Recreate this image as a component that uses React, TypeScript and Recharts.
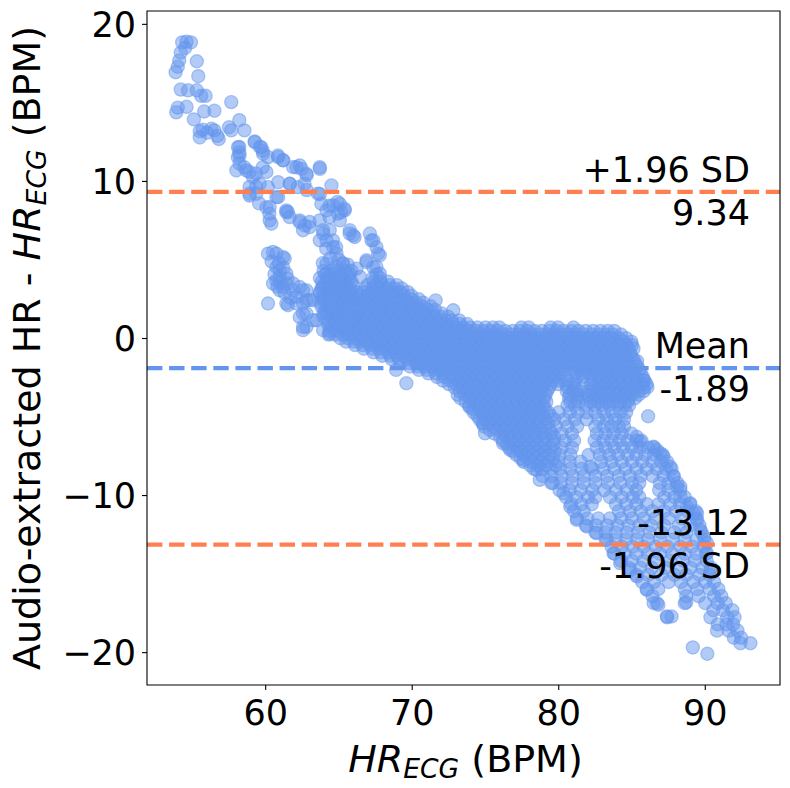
import { ReferenceArea, ReferenceLine, Scatter, ScatterChart, XAxis, YAxis } from "recharts";

const X_DOMAIN: [number, number] = [51.9, 95.1];
const Y_DOMAIN: [number, number] = [-22.06, 20.85];
const X_TICKS = [60, 70, 80, 90];
const Y_TICKS = [-20, -10, 0, 10, 20];

const MEAN_DIFF = -1.89;
const UPPER_LOA = 9.34;
const LOWER_LOA = -13.12;

const POINT_COLOR = "#6495ED";
const LOA_COLOR = "#FF7F50";

// Sparse points, [HR_ECG, difference]
const upperTail: [number, number][] = [
  [54.3, 18.85], [54.6, 18.9], [54.9, 18.85], [54.5, 18.5], [54.2, 18.2], [54.1, 17.7], [54.0, 17.3],
  [53.85, 16.95], [55.3, 17.65], [55.4, 16.7], [54.2, 15.85], [54.7, 15.8], [55.3, 15.8], [55.6, 15.45],
  [55.9, 15.45], [53.9, 14.4], [54.0, 14.7], [54.6, 14.75], [55.8, 14.45], [56.5, 14.5], [57.65, 15.05],
  [55.1, 13.95], [55.5, 12.8], [55.7, 13.3], [56.3, 13.35], [56.5, 13.25], [56.8, 12.7], [56.7, 12.9],
  [57.5, 13.45], [57.65, 13.25], [58.2, 13.9], [58.55, 13.25], [59.25, 12.55], [59.6, 12.2], [59.8, 11.95],
  [58.2, 12.2], [58.2, 11.85], [58.1, 11.55], [55.5, 13.2], [56.0, 13.1],
];

const upperBand: [number, number][] = [
  [58.11, 12.18], [58.22, 11.65], [59.25, 12.5], [59.7, 12.18], [59.82, 11.76], [60.16, 11.55],
  [60.84, 11.65], [61.18, 11.34], [61.87, 10.91], [62.32, 11.02], [62.78, 10.49], [63.69, 10.91],
  [64.49, 9.75], [58.22, 11.13], [58.68, 10.7], [59.13, 10.27], [59.59, 9.85], [60.16, 9.64], [60.73, 9.0],
  [58.91, 9.22], [59.36, 9.22], [60.27, 8.37], [60.27, 7.52], [60.39, 7.31], [61.41, 8.16], [61.64, 7.73],
  [62.32, 7.41], [62.55, 6.89], [63.0, 7.09], [63.8, 8.58], [64.15, 8.16], [64.6, 8.47], [65.06, 8.58],
  [65.4, 8.16], [64.94, 7.95], [65.06, 7.52], [65.74, 6.89], [65.97, 6.57], [63.69, 7.52], [63.92, 6.68],
  [64.15, 6.25], [64.37, 6.89], [64.6, 5.82], [64.83, 5.4], [65.29, 4.77], [65.74, 4.13], [66.43, 3.92],
  [67.11, 6.68], [67.34, 6.25], [67.56, 5.82], [67.67, 5.4], [66.88, 4.98], [67.34, 4.55],
  [58.0, 10.7], [58.55, 10.9], [58.9, 10.6], [59.35, 10.5], [59.8, 10.9], [60.05, 10.6], [60.85, 11.55],
  [61.2, 11.35], [62.1, 10.9], [62.45, 10.8], [62.8, 10.4], [63.7, 10.8], [60.85, 9.95], [61.65, 9.85],
  [62.65, 9.85], [58.9, 9.65], [59.35, 9.65], [58.9, 9.1], [59.55, 8.6], [60.05, 8.35], [60.25, 7.95],
  [60.85, 9.0], [61.4, 8.05], [62.8, 9.45], [63.7, 9.2], [64.35, 8.45], [64.9, 8.7], [65.15, 8.05],
  [61.52, 8.05], [62.32, 7.52], [62.67, 7.2], [63.0, 7.42], [62.19, 9.64], [61.64, 9.85], [63.57, 9.22],
  [65.38, 8.26], [64.36, 7.73], [65.73, 6.68], [66.07, 6.46], [63.91, 6.89], [64.59, 6.25], [63.69, 6.25],
  [64.13, 5.72], [64.81, 5.82], [67.22, 6.25], [67.79, 5.3], [66.88, 4.87], [67.56, 4.55], [67.79, 4.13],
  [64.4, 5.1], [65.0, 5.0], [65.6, 4.7], [66.2, 4.45], [63.9, 4.8],
];

const leftLobe: [number, number][] = [
  [60.16, 5.4], [60.5, 5.51], [61.18, 5.19], [60.73, 4.55], [60.96, 3.92], [61.41, 4.13], [60.5, 3.5],
  [61.18, 3.28], [61.87, 3.07], [62.32, 3.28], [62.78, 3.07], [60.16, 2.23], [61.41, 2.23], [62.09, 2.65],
  [62.78, 2.44], [63.24, 2.44], [63.69, 2.86], [61.52, 2.12], [62.32, 1.37], [62.78, 0.74], [62.55, 0.53],
  [60.73, 5.4], [61.3, 5.09], [60.96, 4.34], [60.73, 3.71], [61.41, 3.5], [60.96, 3.07], [62.55, 2.23],
  [60.4, 4.9], [60.9, 4.8], [61.2, 4.5], [60.6, 4.1], [61.0, 3.6], [61.5, 3.8], [60.8, 3.3], [61.3, 2.9],
  [61.7, 2.6], [64.15, 4.77], [64.8, 4.55], [65.26, 4.77], [64.15, 4.13], [65.04, 3.92], [64.59, 3.5],
  [65.5, 3.5], [63.91, 3.28], [64.81, 2.86], [65.73, 3.07], [63.91, 2.44], [65.04, 2.23], [65.95, 2.44],
  [62.55, 1.59], [63.46, 1.16], [64.15, 1.59], [64.83, 1.37], [64.37, 0.32], [65.51, 0.74], [66.2, 1.37],
  [63.0, 2.44], [62.1, 2.23], [62.78, 1.59], [62.55, 0.74], [63.24, 1.16], [63.92, 0.53], [61.87, 3.5],
  [62.55, 3.07],
];

const strays: [number, number][] = [
  [71.6, 2.43], [72.8, 1.8], [68.9, -2.0], [69.6, -2.85], [85.35, -1.45], [85.8, -2.65], [86.05, -3.1],
  [86.1, -4.95], [89.15, -19.67], [90.14, -20.07], [86.8, -16.95], [87.7, -17.7], [88.7, -16.8],
  [80.32, -9.85], [80.78, -10.7], [81.23, -11.55], [81.92, -11.97], [82.6, -12.39], [83.28, -12.82],
  [83.74, -13.67], [84.19, -14.3], [84.88, -14.73], [85.33, -15.15], [86.02, -16.0], [86.47, -16.84],
  [87.38, -17.69], [85.33, -6.26], [86.47, -6.89], [86.93, -7.31], [87.61, -8.16], [88.3, -9.43],
  [88.98, -10.49], [89.44, -11.55], [89.9, -12.61], [90.12, -13.67], [90.35, -14.73], [85.56, -6.57],
  [86.7, -7.1], [87.15, -7.53], [87.84, -8.8], [88.07, -9.43], [88.3, -10.07], [89.44, -11.13],
  [88.75, -10.71], [89.21, -11.13], [89.67, -12.19], [90.12, -13.03], [73.9, -4.35], [74.85, -5.4],
  [74.97, -6.04], [76.2, -6.68], [76.7, -7.1], [77.6, -7.74], [78.5, -8.37], [78.7, -9.0], [79.6, -9.2],
  [82.03, -7.42], [82.15, -8.16],
];

// Dense part of the cloud, row by row: [difference, HR_ECG values]
const coreRows: [number, number[]][] = [
  [4.3, [63.95, 64.45, 64.95, 65.4, 65.85]],
  [3.85, [63.7, 64.2, 64.75, 65.2, 65.7, 67.3, 67.8]],
  [3.4, [63.95, 64.5, 64.95, 65.45, 65.95, 66.95, 67.5, 67.95, 68.45, 68.95]],
  [2.95, [63.7, 64.25, 64.7, 65.2, 65.75, 66.2, 66.7, 67.25, 67.7, 68.2, 68.75, 69.2, 69.7]],
  [2.5, [64.0, 64.5, 65.0, 65.45, 66.0, 66.5, 66.95, 67.5, 68.0, 68.45, 68.95, 69.5, 69.95, 70.45]],
  [2.05, [63.8, 64.25, 64.75, 65.25, 65.7, 66.25, 66.75, 67.2, 67.75, 68.25, 68.7, 69.25, 69.75, 70.2, 70.7, 71.25]],
  [1.6, [63.95, 64.5, 64.95, 65.5, 65.95, 66.45, 67.0, 67.5, 67.95, 68.5, 69.0, 69.45, 69.95, 70.5, 70.95, 71.45, 72.0]],
  [1.15, [64.2, 64.75, 65.2, 65.75, 66.25, 66.7, 67.25, 67.75, 68.2, 68.75, 69.25, 69.7, 70.25, 70.7, 71.2, 71.75, 72.25, 72.7, 73.2]],
  [0.7, [64.45, 64.95, 65.5, 66.0, 66.45, 66.95, 67.5, 68.0, 68.45, 69.0, 69.5, 69.95, 70.45, 71.0, 71.5, 71.95, 72.45, 73.0, 73.5, 73.95, 74.45, 75.0, 75.5, 75.95, 77.45, 77.95, 79.45, 79.95, 81.0]],
  [0.25, [64.3, 64.75, 65.25, 65.7, 66.2, 66.75, 67.25, 67.7, 68.25, 68.75, 69.2, 69.7, 70.25, 70.75, 71.2, 71.7, 72.25, 72.75, 73.2, 73.7, 74.25, 74.75, 75.2, 75.7, 76.25, 76.75, 77.2, 77.7, 78.25, 78.75, 79.2, 79.7, 80.25, 80.75, 81.2, 81.7, 82.25, 82.75, 83.2, 83.7, 84.25]],
  [-0.2, [65.5, 66.0, 66.45, 66.95, 67.5, 68.0, 68.45, 68.95, 69.5, 70.0, 70.45, 70.95, 71.5, 72.0, 72.45, 72.95, 73.5, 74.0, 74.45, 74.95, 75.5, 76.0, 76.45, 76.95, 77.5, 78.0, 78.45, 78.95, 79.5, 80.0, 80.45, 80.95, 81.5, 82.0, 82.45, 82.95, 83.5, 84.0, 84.45, 84.95]],
  [-0.65, [66.7, 67.25, 67.7, 68.2, 68.75, 69.25, 69.7, 70.2, 70.75, 71.25, 71.7, 72.2, 72.75, 73.25, 73.7, 74.2, 74.75, 75.25, 75.7, 76.2, 76.75, 77.25, 77.7, 78.2, 78.75, 79.25, 79.7, 80.2, 80.75, 81.25, 81.7, 82.2, 82.75, 83.25, 83.7, 84.2, 84.75, 85.1]],
  [-1.1, [67.95, 68.5, 68.95, 69.45, 70.0, 70.5, 70.95, 71.45, 72.0, 72.5, 72.95, 73.45, 74.0, 74.5, 74.95, 75.45, 76.0, 76.5, 76.95, 77.45, 78.0, 78.5, 78.95, 79.45, 80.0, 80.5, 80.95, 81.45, 82.0, 82.5, 82.95, 83.45, 84.0, 84.5, 84.95]],
  [-1.55, [69.2, 69.75, 70.25, 70.7, 71.2, 71.75, 72.25, 72.7, 73.2, 73.75, 74.25, 74.7, 75.2, 75.75, 76.25, 76.7, 77.2, 77.75, 78.25, 78.7, 79.2, 79.75, 80.25, 80.7, 81.2, 81.75, 82.25, 82.7, 83.2, 83.75, 84.25, 84.7, 85.2]],
  [-2.0, [70.45, 71.0, 71.5, 71.95, 72.45, 73.0, 73.5, 73.95, 74.45, 75.0, 75.5, 75.95, 76.45, 77.0, 77.5, 77.95, 78.45, 79.0, 79.5, 79.95, 80.45, 81.0, 81.5, 81.95, 82.45, 83.0, 83.5, 83.95, 84.45, 85.0, 85.5]],
  [-2.45, [71.7, 72.2, 72.75, 73.25, 73.7, 74.2, 74.75, 75.25, 75.7, 76.2, 76.75, 77.25, 77.7, 78.2, 78.75, 79.25, 79.7, 80.2, 81.25, 81.7, 82.2, 82.75, 83.25, 83.7, 84.2, 84.75, 85.25, 85.75]],
  [-2.9, [72.5, 73.0, 73.45, 73.95, 74.5, 75.0, 75.45, 75.95, 76.5, 77.0, 77.45, 77.95, 78.5, 79.0, 79.45, 79.95, 80.5, 81.0, 82.2, 82.7, 83.2, 83.7, 84.2, 84.7, 85.2, 85.7, 86.0]],
  [-3.35, [73.25, 73.7, 74.2, 74.75, 75.25, 75.7, 76.2, 76.75, 77.25, 77.7, 78.2, 78.75, 79.2, 80.55, 81.0, 81.45, 82.0, 82.5, 82.95, 83.45, 84.0, 84.5, 84.95, 85.45, 85.8]],
  [-3.8, [73.3, 73.95, 74.5, 75.0, 75.45, 75.95, 76.5, 77.0, 77.45, 77.95, 78.5, 79.0, 80.7, 81.25, 81.75, 82.25, 82.75, 83.25, 83.7, 84.25, 84.75, 85.2]],
  [-4.25, [73.9, 74.5, 75.0, 75.5, 75.95, 76.45, 77.0, 77.5, 77.95, 78.45, 78.95, 80.6, 81.1, 81.85, 82.45, 82.95, 83.45, 84.0, 84.5, 84.8]],
  [-4.7, [74.2, 74.75, 75.25, 75.7, 76.2, 76.75, 77.25, 77.7, 78.2, 78.75, 79.3, 80.0, 80.75, 81.3, 81.9, 82.5, 83.1, 83.65, 84.2, 84.6]],
  [-5.15, [74.6, 75.0, 75.45, 75.95, 76.5, 77.0, 77.45, 77.95, 78.5, 79.05, 79.7, 80.4, 81.1, 81.9, 82.7, 83.3, 83.85, 84.45]],
  [-5.6, [74.9, 75.5, 76.0, 76.45, 76.95, 77.5, 78.0, 78.5, 79.1, 79.8, 80.6, 81.25, 82.5, 83.1, 83.6, 84.1, 84.45]],
  [-6.05, [75.6, 76.2, 76.7, 77.2, 77.75, 78.25, 78.85, 79.5, 80.2, 80.9, 82.6, 83.2, 83.75, 84.3, 84.95]],
  [-6.5, [76.2, 76.75, 77.25, 77.75, 78.3, 78.9, 79.6, 80.4, 81.05, 82.45, 83.05, 83.6, 84.15, 84.7, 85.3, 85.65]],
  [-6.95, [76.6, 77.2, 77.7, 78.2, 78.8, 79.45, 80.2, 80.9, 82.6, 83.2, 83.8, 84.4, 85.0, 85.55, 86.1, 86.5]],
  [-7.4, [77.1, 77.65, 78.2, 78.75, 79.35, 80.05, 80.8, 82.8, 83.45, 84.05, 84.7, 85.3, 85.9, 86.5, 87.1]],
  [-7.85, [77.6, 78.15, 78.7, 79.3, 80.0, 80.75, 81.5, 82.9, 83.6, 84.3, 85.0, 85.7, 86.4, 87.0, 87.4]],
  [-8.3, [78.3, 78.85, 79.45, 80.1, 80.8, 81.55, 82.3, 83.05, 83.8, 84.55, 85.3, 86.0, 86.7, 87.3, 87.7]],
  [-8.75, [78.9, 79.5, 80.2, 80.95, 81.7, 82.5, 83.3, 84.1, 84.85, 85.6, 86.4, 87.15, 87.85]],
  [-9.2, [79.5, 80.15, 80.9, 81.7, 82.5, 83.35, 84.2, 85.0, 85.5, 86.9, 87.5, 88.1]],
];

// Second set of rows between the first ones, where the cloud is solid
const coreMidRows: [number, number[]][] = [
  [4.08, [64.05, 64.6, 65.1, 65.6, 67.55]],
  [3.62, [63.85, 64.35, 64.85, 65.35, 65.85, 67.35, 67.85, 68.35]],
  [3.18, [63.8, 64.3, 64.8, 65.3, 65.8, 66.8, 67.3, 67.8, 68.3, 68.8, 69.3]],
  [2.72, [63.95, 64.45, 64.95, 65.45, 65.95, 66.45, 66.95, 67.45, 67.95, 68.45, 68.95, 69.45, 69.95]],
  [2.28, [63.75, 64.25, 64.75, 65.25, 65.75, 66.25, 66.75, 67.25, 67.75, 68.25, 68.75, 69.25, 69.75, 70.25, 70.75]],
  [1.82, [64.05, 64.55, 65.05, 65.55, 66.05, 66.55, 67.05, 67.55, 68.05, 68.55, 69.05, 69.55, 70.05, 70.55, 71.05, 71.55]],
  [1.38, [63.95, 64.45, 64.95, 65.45, 65.95, 66.45, 66.95, 67.45, 67.95, 68.45, 68.95, 69.45, 69.95, 70.45, 70.95, 71.45, 71.95, 72.45]],
  [0.92, [64.25, 64.75, 65.25, 65.75, 66.25, 66.75, 67.25, 67.75, 68.25, 68.75, 69.25, 69.75, 70.25, 70.75, 71.25, 71.75, 72.25, 72.75, 73.25, 73.75]],
  [0.48, [64.35, 64.85, 65.35, 65.85, 66.35, 66.85, 67.35, 67.85, 68.35, 68.85, 69.35, 69.85, 70.35, 70.85, 71.35, 71.85, 72.35, 72.85, 73.35, 73.85, 74.35, 74.85, 75.35, 75.85, 76.35, 76.85, 77.35, 77.85, 78.35, 78.85, 79.35, 79.85, 80.35, 80.85, 81.35, 81.85, 82.35, 82.85, 83.35, 83.8]],
  [0.02, [65.1, 65.6, 66.1, 66.6, 67.1, 67.6, 68.1, 68.6, 69.1, 69.6, 70.1, 70.6, 71.1, 71.6, 72.1, 72.6, 73.1, 73.6, 74.1, 74.6, 75.1, 75.6, 76.1, 76.6, 77.1, 77.6, 78.1, 78.6, 79.1, 79.6, 80.1, 80.6, 81.1, 81.6, 82.1, 82.6, 83.1, 83.6, 84.1, 84.6]],
  [-0.42, [66.1, 66.6, 67.1, 67.6, 68.1, 68.6, 69.1, 69.6, 70.1, 70.6, 71.1, 71.6, 72.1, 72.6, 73.1, 73.6, 74.1, 74.6, 75.1, 75.6, 76.1, 76.6, 77.1, 77.6, 78.1, 78.6, 79.1, 79.6, 80.1, 80.6, 81.1, 81.6, 82.1, 82.6, 83.1, 83.6, 84.1, 84.6, 85.0]],
  [-0.88, [67.35, 67.85, 68.35, 68.85, 69.35, 69.85, 70.35, 70.85, 71.35, 71.85, 72.35, 72.85, 73.35, 73.85, 74.35, 74.85, 75.35, 75.85, 76.35, 76.85, 77.35, 77.85, 78.35, 78.85, 79.35, 79.85, 80.35, 80.85, 81.35, 81.85, 82.35, 82.85, 83.35, 83.85, 84.35, 84.85]],
  [-1.32, [68.6, 69.1, 69.6, 70.1, 70.6, 71.1, 71.6, 72.1, 72.6, 73.1, 73.6, 74.1, 74.6, 75.1, 75.6, 76.1, 76.6, 77.1, 77.6, 78.1, 78.6, 79.1, 79.6, 80.1, 80.6, 81.1, 81.6, 82.1, 82.6, 83.1, 83.6, 84.1, 84.6, 85.1]],
  [-1.78, [69.85, 70.35, 70.85, 71.35, 71.85, 72.35, 72.85, 73.35, 73.85, 74.35, 74.85, 75.35, 75.85, 76.35, 76.85, 77.35, 77.85, 78.35, 78.85, 79.35, 79.85, 80.35, 80.85, 81.35, 81.85, 82.35, 82.85, 83.35, 83.85, 84.35, 84.85, 85.35]],
  [-2.22, [71.1, 71.6, 72.1, 72.6, 73.1, 73.6, 74.1, 74.6, 75.1, 75.6, 76.1, 76.6, 77.1, 77.6, 78.1, 78.6, 79.1, 79.6, 80.1, 81.1, 81.6, 82.1, 82.6, 83.1, 83.6, 84.1, 84.6, 85.1, 85.6]],
  [-2.68, [72.1, 72.6, 73.1, 73.6, 74.1, 74.6, 75.1, 75.6, 76.1, 76.6, 77.1, 77.6, 78.1, 78.6, 79.1, 79.6, 80.1, 80.6, 81.1, 82.4, 82.9, 83.4, 83.9, 84.4, 84.9, 85.4, 85.85]],
  [-3.12, [72.9, 73.4, 73.9, 74.4, 74.9, 75.4, 75.9, 76.4, 76.9, 77.4, 77.9, 78.4, 78.9, 79.35, 80.6, 81.1, 81.6, 82.35, 82.85, 83.35, 83.85, 84.35, 84.85, 85.35, 85.8]],
  [-3.58, [73.1, 73.6, 74.1, 74.6, 75.1, 75.6, 76.1, 76.6, 77.1, 77.6, 78.1, 78.6, 79.1, 80.75, 81.25, 82.0, 82.5, 83.0, 83.5, 84.0, 84.5, 85.0, 85.45]],
  [-4.02, [73.65, 74.2, 74.7, 75.2, 75.7, 76.2, 76.7, 77.2, 77.7, 78.2, 78.7, 79.15, 80.8, 81.35, 82.2, 82.7, 83.2, 83.7, 84.2, 84.7]],
  [-4.48, [74.1, 74.6, 75.1, 75.6, 76.1, 76.6, 77.1, 77.6, 78.1, 78.6, 79.05]],
  [-4.92, [74.45, 74.95, 75.45, 75.95, 76.45, 76.95, 77.45, 77.95, 78.45, 78.95, 79.45]],
  [-5.38, [74.8, 75.25, 75.75, 76.25, 76.75, 77.25, 77.75, 78.25, 78.75, 79.3]],
  [-5.82, [75.3, 75.8, 76.3, 76.8, 77.3, 77.8, 78.3, 78.8, 79.4]],
  [-6.28, [76.0, 76.5, 77.0, 77.5, 78.0, 78.55, 79.1, 79.7]],
  [-6.72, [76.45, 77.0, 77.5, 78.0, 78.5, 79.05, 79.65]],
  [-7.18, [76.9, 77.45, 77.95, 78.5, 79.05, 79.7]],
  [-7.62, [77.4, 77.9, 78.45, 79.0, 79.6]],
  [-8.08, [78.05, 78.6, 79.15, 79.8]],
];

// Lower arm of the cloud, thinner than the core
const lowerRows: [number, number[]][] = [
  [-9.65, [80.05, 80.75, 81.5, 82.3, 83.1, 83.9, 84.65, 85.3, 86.85, 87.5, 88.3]],
  [-10.1, [80.5, 81.2, 82.0, 82.5, 83.5, 84.3, 85.05, 85.5, 87.2, 87.9, 88.6]],
  [-10.55, [80.85, 81.55, 82.25, 83.9, 84.6, 85.3, 86.0, 86.8, 87.6, 88.3, 88.95]],
  [-11.0, [81.05, 81.7, 84.1, 84.85, 85.6, 86.4, 87.2, 88.0, 88.8, 89.35]],
  [-11.45, [81.25, 81.95, 82.7, 83.5, 84.25, 85.0, 85.8, 86.6, 87.5, 88.4, 89.4]],
  [-11.9, [81.85, 82.55, 83.3, 84.0, 84.75, 85.5, 86.3, 87.2, 88.2, 89.0, 89.6]],
  [-12.35, [82.5, 83.2, 83.9, 84.65, 85.4, 86.2, 87.0, 87.9, 88.7, 89.75]],
  [-12.8, [83.2, 83.9, 84.6, 85.35, 86.1, 86.9, 87.8, 88.6, 89.4, 89.95]],
  [-13.25, [83.6, 84.3, 85.05, 85.8, 86.6, 87.4, 88.3, 89.1, 89.9]],
  [-13.7, [83.8, 84.5, 85.3, 86.1, 86.9, 87.75, 88.6, 89.4, 90.05]],
  [-14.15, [84.25, 85.0, 85.8, 86.7, 87.6, 88.5, 89.3, 90.1]],
  [-14.6, [84.8, 85.55, 86.35, 87.3, 88.2, 89.0, 89.8, 90.4]],
  [-15.05, [85.3, 86.1, 87.0, 87.9, 88.7, 89.6, 90.3]],
  [-15.5, [85.7, 86.5, 87.5, 88.35, 89.2, 90.0, 90.6]],
  [-15.95, [86.0, 86.8, 88.6, 89.45, 90.3, 90.9]],
  [-16.4, [86.4, 88.7, 89.55, 90.6, 91.1]],
  [-16.85, [86.7, 88.6, 90.0, 90.85, 91.4]],
  [-17.3, [90.55, 91.2, 91.85]],
  [-17.75, [87.4, 90.35, 91.5, 92.0]],
  [-18.2, [90.85, 91.45, 91.9]],
  [-18.6, [90.8, 91.6, 92.2]],
  [-19.05, [91.95, 92.45]],
  [-19.4, [92.4, 93.08]],
];

const points = [
  ...[...upperTail, ...upperBand, ...leftLobe, ...strays].map(([x, y]) => ({ x, y })),
  ...[...coreRows, ...coreMidRows, ...lowerRows].flatMap(([y, xs]) => xs.map((x) => ({ x, y }))),
];

const FONT = "DejaVu Sans";

const minus = (v: number) => String(v).replace("-", "\u2212");

function Dot(props: any) {
  return (
    <circle
      cx={props.cx}
      cy={props.cy}
      r={6.6}
      fill={POINT_COLOR}
      fillOpacity={0.5}
      stroke={POINT_COLOR}
      strokeOpacity={0.5}
      strokeWidth={1.2}
    />
  );
}

// two lines of text at the right end of a reference line: one above, one below
function lineLabel(above: string, below: string) {
  return (props: any) => {
    const { x, y, width } = props.viewBox;
    const tx = x + width - 30;
    return (
      <g fontFamily={FONT} fontSize={35} fill="#000">
        <text x={tx} y={y - 10} textAnchor="end">{above}</text>
        <text x={tx} y={y + 33} textAnchor="end">{below}</text>
      </g>
    );
  };
}

function xLabel(props: any) {
  const { x, y, width } = props.viewBox;
  return (
    <text x={x + width / 2 + 2} y={y + 87} textAnchor="middle" fontFamily={FONT} fontSize={38} fill="#000">
      <tspan fontStyle="italic">HR</tspan>
      <tspan fontStyle="italic" fontSize={26.6} dy={6}>ECG</tspan>
      <tspan dy={-6}>{" (BPM)"}</tspan>
    </text>
  );
}

function yLabel(props: any) {
  const { y, height } = props.viewBox;
  const cx = 40;
  const cy = y + height / 2;
  return (
    <text x={cx} y={cy} transform={`rotate(-90 ${cx} ${cy})`} textAnchor="middle" fontFamily={FONT} fontSize={38} fill="#000">
      {"Audio-extracted HR - "}
      <tspan fontStyle="italic">HR</tspan>
      <tspan fontStyle="italic" fontSize={26.6} dy={6}>ECG</tspan>
      <tspan dy={-6}>{" (BPM)"}</tspan>
    </text>
  );
}

export default function App() {
  const tick = { fontSize: 35, fill: "#000", fontFamily: FONT };
  const tickLine = { stroke: "#000", strokeWidth: 1.1 };
  return (
    <div style={{ position: "absolute", left: 0, top: 0, width: 790, height: 788, background: "#fff" }}>
      <ScatterChart width={790} height={788} margin={{ top: 11, right: 10, bottom: 0, left: 0 }}>
        <XAxis
          type="number"
          dataKey="x"
          domain={X_DOMAIN}
          ticks={X_TICKS}
          allowDataOverflow
          height={103}
          tick={tick}
          tickLine={tickLine}
          tickSize={5}
          tickMargin={10}
          axisLine={false}
          label={xLabel}
        />
        <YAxis
          type="number"
          dataKey="y"
          domain={Y_DOMAIN}
          ticks={Y_TICKS}
          allowDataOverflow
          width={147}
          tick={tick}
          tickLine={tickLine}
          tickSize={5}
          tickMargin={6}
          tickFormatter={minus}
          axisLine={false}
          label={yLabel}
        />
        <Scatter data={points} shape={Dot} isAnimationActive={false} />
        <ReferenceLine
          y={UPPER_LOA}
          stroke={LOA_COLOR}
          strokeWidth={4.2}
          strokeDasharray="15.4 6.7"
          zIndex={1000}
          label={lineLabel("+1.96 SD", String(UPPER_LOA))}
        />
        <ReferenceLine
          y={MEAN_DIFF}
          stroke={POINT_COLOR}
          strokeWidth={4.2}
          strokeDasharray="15.4 6.7"
          zIndex={1000}
          label={lineLabel("Mean", String(MEAN_DIFF))}
        />
        <ReferenceLine
          y={LOWER_LOA}
          stroke={LOA_COLOR}
          strokeWidth={4.2}
          strokeDasharray="15.4 6.7"
          zIndex={1000}
          label={lineLabel(String(LOWER_LOA), "-1.96 SD")}
        />
        <ReferenceArea
          x1={X_DOMAIN[0]}
          x2={X_DOMAIN[1]}
          y1={Y_DOMAIN[0]}
          y2={Y_DOMAIN[1]}
          fill="none"
          stroke="#000"
          strokeWidth={1.1}
          ifOverflow="visible"
          zIndex={1000}
        />
      </ScatterChart>
    </div>
  );
}
